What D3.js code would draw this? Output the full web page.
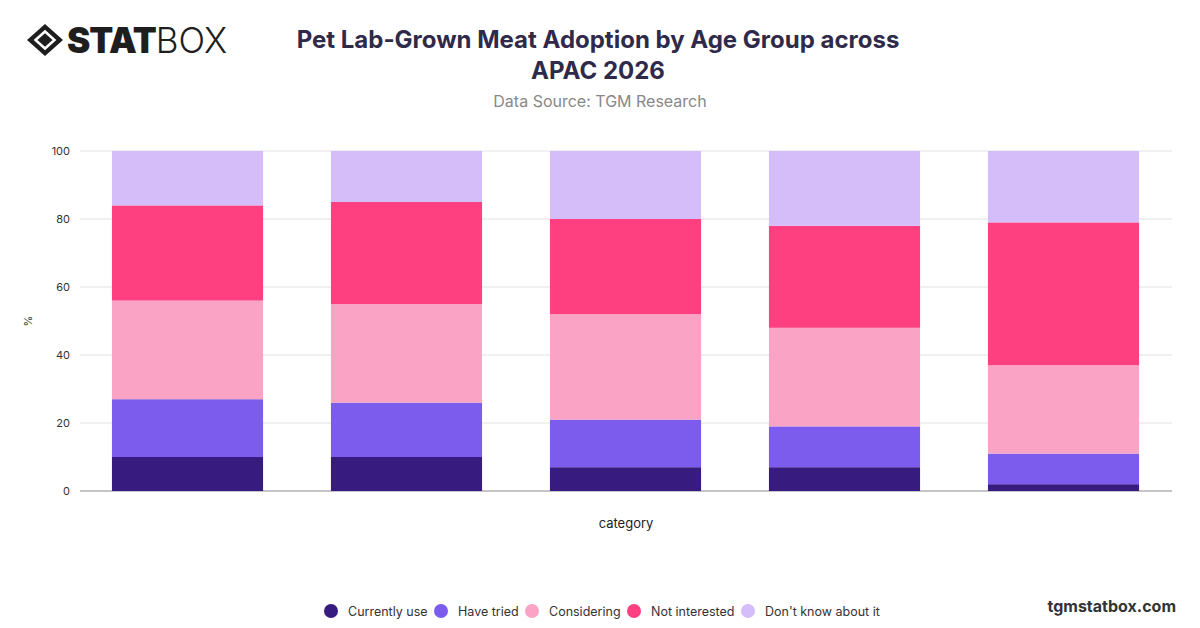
<!DOCTYPE html>
<html>
<head>
<script src="https://cdn.jsdelivr.net/npm/d3@7"></script>
<style>
  body { margin: 0; background: #fff; }
</style>
</head>
<body>
<script>
var categories = ["Gen Z", "Millennials", "Gen X", "Baby Boomers", "Silent"];
var seriesNames = ["Currently use", "Have tried", "Considering", "Not interested", "Don't know about it"];
var colors = ["#371b7e", "#7b5cec", "#fba3c4", "#fe3f80", "#d5bdfa"];
var currentlyUse = [10, 10, 7, 7, 2];
var haveTried = [17, 16, 14, 12, 9];
var considering = [29, 29, 31, 29, 26];
var notInterested = [28, 30, 28, 30, 42];
var dontKnow = [16, 15, 20, 22, 21];
var yTicks = [0, 20, 40, 60, 80, 100];

var rows = categories.map(function (c, i) {
  return { cat: c, s0: currentlyUse[i], s1: haveTried[i], s2: considering[i], s3: notInterested[i], s4: dontKnow[i] };
});
var stacked = d3.stack().keys(["s0", "s1", "s2", "s3", "s4"])(rows);

var svg = d3.select("body").append("svg").attr("width", 1200).attr("height", 628)
  .style("font-family", "Inter, 'Noto Sans', sans-serif");

var x = d3.scaleBand().domain(categories).range([78, 1173]).paddingInner(0.31).paddingOuter(0.155);
var y = d3.scaleLinear().domain([0, 100]).range([491, 151]);

// grid
svg.append("g").selectAll("line").data(yTicks).enter().append("line")
  .attr("x1", 80).attr("x2", 1172)
  .attr("y1", function (d) { return y(d); }).attr("y2", function (d) { return y(d); })
  .attr("stroke", "#e2e2e2");
svg.append("g").selectAll("text").data(yTicks).enter().append("text")
  .attr("x", 70).attr("y", function (d) { return y(d) + 4; })
  .attr("text-anchor", "end").attr("font-size", 11).attr("fill", "#333")
  .text(function (d) { return d; });
svg.append("line").attr("x1", 80).attr("x2", 1172).attr("y1", y(0)).attr("y2", y(0)).attr("stroke", "#999");

svg.append("g").selectAll("g").data(stacked).enter().append("g")
  .attr("fill", function (d, i) { return colors[i]; })
  .selectAll("rect").data(function (d) { return d; }).enter().append("rect")
  .attr("x", function (d) { return x(d.data.cat); })
  .attr("width", x.bandwidth())
  .attr("y", function (d) { return y(d[1]); })
  .attr("height", function (d) { return y(d[0]) - y(d[1]); });

svg.append("text").attr("transform", "translate(32,321) rotate(-90)")
  .attr("text-anchor", "middle").attr("font-size", 11).attr("fill", "#333").text("%");
svg.append("text").attr("x", 626).attr("y", 528).attr("text-anchor", "middle")
  .attr("font-size", 13).attr("fill", "#222").text("category");

// titles
svg.append("text").attr("x", 598).attr("y", 48).attr("text-anchor", "middle")
  .attr("font-size", 24).attr("font-weight", 700).attr("fill", "#2f2a4a")
  .text("Pet Lab-Grown Meat Adoption by Age Group across");
svg.append("text").attr("x", 598).attr("y", 79).attr("text-anchor", "middle")
  .attr("font-size", 24).attr("font-weight", 700).attr("fill", "#2f2a4a").text("APAC 2026");
svg.append("text").attr("x", 600).attr("y", 107).attr("text-anchor", "middle")
  .attr("font-size", 16).attr("fill", "#888").text("Data Source: TGM Research");

// logo
var logo = svg.append("g").attr("transform", "translate(45,40)");
logo.append("path").attr("d", "M-18,0 L0,-16 L18,0 L0,16 Z").attr("fill", "#1e1e1e");
logo.append("path").attr("d", "M-9.5,0 L0,-8.5 L9.5,0 L0,8.5 Z").attr("fill", "none").attr("stroke", "#fff").attr("stroke-width", 2.5);
svg.append("text").attr("x", 67).attr("y", 53).attr("font-size", 35).attr("font-weight", 900)
  .attr("fill", "#1e1e1e").attr("letter-spacing", -1).text("STAT")
  .append("tspan").attr("font-weight", 300).attr("letter-spacing", 0).text("BOX");

// legend
var legendX = [331, 441, 532, 634, 748];
var lg = svg.append("g").selectAll("g").data(seriesNames).enter().append("g")
  .attr("transform", function (d, i) { return "translate(" + legendX[i] + ",611)"; });
lg.append("circle").attr("r", 7).attr("fill", function (d, i) { return colors[i]; });
lg.append("text").attr("x", 17).attr("y", 5).attr("font-size", 12.5).attr("fill", "#333").text(function (d) { return d; });

svg.append("text").attr("x", 1176).attr("y", 612).attr("text-anchor", "end")
  .attr("font-size", 16).attr("font-weight", 700).attr("fill", "#333").text("tgmstatbox.com");
</script>
</body>
</html>
